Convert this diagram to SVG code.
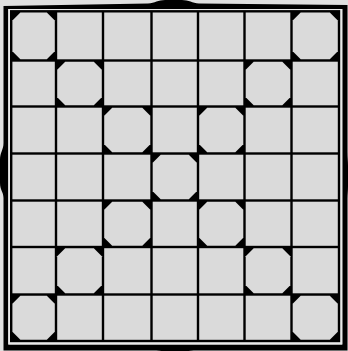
<svg xmlns="http://www.w3.org/2000/svg" width="348" height="351" viewBox="0 0 348 351">
<style>
.c{fill:#dadada}
.o{fill:#dadada}
</style>
<rect width="348" height="351" fill="#e0e0e0"/>
<g id="frame">
<path fill="#000" fill-rule="evenodd" d="M3.5,6 L148,3.5 C155,3 158,0 165,0 L182,0 C189,0 192,3 199,3.5 L347.5,5 L347.5,152 C347.5,158 348,161 348,166 L348,186 C348,191 347.5,194 347.5,199 L347.5,350.5 L197,350.5 C192,350.5 190,351 185,351 L165,351 C160,351 158,350.5 153,350.5 L3.5,350.5 L3.5,198 C3.5,192 0,190 0,183 L0,160 C0,152 3.5,150 3.5,143 Z M8.3,9 L342.3,9 L342.3,344.5 L8.3,344.5 Z"/>
<rect x="8.3" y="9" width="334" height="335.5" fill="#e9e9e9"/>
<rect x="10" y="10.1" width="330.2" height="332.1" fill="#000"/>
</g>
<g id="squares">
<rect class="c" x="57.2" y="12.5" width="44.6" height="46.8"/>
<rect class="c" x="104.2" y="12.5" width="46.1" height="46.8"/>
<rect class="c" x="152.7" y="12.5" width="44.1" height="46.8"/>
<rect class="c" x="199.2" y="12.5" width="44.1" height="46.8"/>
<rect class="c" x="245.7" y="12.5" width="44.6" height="46.8"/>

<rect class="c" x="12.4" y="61.7" width="42.4" height="43.6"/>
<rect class="c" x="104.2" y="61.7" width="46.1" height="43.6"/>
<rect class="c" x="152.7" y="61.7" width="44.1" height="43.6"/>
<rect class="c" x="199.2" y="61.7" width="44.1" height="43.6"/>
<rect class="c" x="292.7" y="61.7" width="45.1" height="43.6"/>

<rect class="c" x="12.4" y="107.7" width="42.4" height="44.6"/>
<rect class="c" x="57.2" y="107.7" width="44.6" height="44.6"/>
<rect class="c" x="152.7" y="107.7" width="44.1" height="44.6"/>
<rect class="c" x="245.7" y="107.7" width="44.6" height="44.6"/>
<rect class="c" x="292.7" y="107.7" width="45.1" height="44.6"/>

<rect class="c" x="12.4" y="154.7" width="42.4" height="44.6"/>
<rect class="c" x="57.2" y="154.7" width="44.6" height="44.6"/>
<rect class="c" x="104.2" y="154.7" width="46.1" height="44.6"/>
<rect class="c" x="199.2" y="154.7" width="44.1" height="44.6"/>
<rect class="c" x="245.7" y="154.7" width="44.6" height="44.6"/>
<rect class="c" x="292.7" y="154.7" width="45.1" height="44.6"/>

<rect class="c" x="12.4" y="201.7" width="42.4" height="44.1"/>
<rect class="c" x="57.2" y="201.7" width="44.6" height="44.1"/>
<rect class="c" x="152.7" y="201.7" width="44.1" height="44.1"/>
<rect class="c" x="245.7" y="201.7" width="44.6" height="44.1"/>
<rect class="c" x="292.7" y="201.7" width="45.1" height="44.1"/>

<rect class="c" x="12.4" y="248.2" width="42.4" height="45.1"/>
<rect class="c" x="104.2" y="248.2" width="46.1" height="45.1"/>
<rect class="c" x="152.7" y="248.2" width="44.1" height="45.1"/>
<rect class="c" x="199.2" y="248.2" width="44.1" height="45.1"/>
<rect class="c" x="292.7" y="248.2" width="45.1" height="45.1"/>

<rect class="c" x="57.2" y="295.7" width="44.6" height="44.1"/>
<rect class="c" x="104.2" y="295.7" width="46.1" height="44.1"/>
<rect class="c" x="152.7" y="295.7" width="44.1" height="44.1"/>
<rect class="c" x="199.2" y="295.7" width="44.1" height="44.1"/>
<rect class="c" x="245.7" y="295.7" width="44.6" height="44.1"/>
</g>
<g id="octagons">
<polygon class="o" points="20.4,12.5 46.8,12.5 54.8,20.5 54.8,51.3 46.8,59.3 20.4,59.3 12.4,51.3 12.4,20.5"/>
<polygon class="o" points="300.7,12.5 329.8,12.5 337.8,20.5 337.8,51.3 329.8,59.3 300.7,59.3 292.7,51.3 292.7,20.5"/>
<polygon class="o" points="65.2,61.7 93.8,61.7 101.8,69.7 101.8,97.3 93.8,105.3 65.2,105.3 57.2,97.3 57.2,69.7"/>
<polygon class="o" points="253.7,61.7 282.3,61.7 290.3,69.7 290.3,97.3 282.3,105.3 253.7,105.3 245.7,97.3 245.7,69.7"/>
<polygon class="o" points="112.2,107.7 142.3,107.7 150.3,115.7 150.3,144.3 142.3,152.3 112.2,152.3 104.2,144.3 104.2,115.7"/>
<polygon class="o" points="207.2,107.7 235.3,107.7 243.3,115.7 243.3,144.3 235.3,152.3 207.2,152.3 199.2,144.3 199.2,115.7"/>
<polygon class="o" points="160.7,154.7 188.8,154.7 196.8,162.7 196.8,191.3 188.8,199.3 160.7,199.3 152.7,191.3 152.7,162.7"/>
<polygon class="o" points="112.2,201.7 142.3,201.7 150.3,209.7 150.3,237.8 142.3,245.8 112.2,245.8 104.2,237.8 104.2,209.7"/>
<polygon class="o" points="207.2,201.7 235.3,201.7 243.3,209.7 243.3,237.8 235.3,245.8 207.2,245.8 199.2,237.8 199.2,209.7"/>
<polygon class="o" points="65.2,248.2 93.8,248.2 101.8,256.2 101.8,285.3 93.8,293.3 65.2,293.3 57.2,285.3 57.2,256.2"/>
<polygon class="o" points="253.7,248.2 282.3,248.2 290.3,256.2 290.3,285.3 282.3,293.3 253.7,293.3 245.7,285.3 245.7,256.2"/>
<polygon class="o" points="20.4,295.7 46.8,295.7 54.8,303.7 54.8,331.8 46.8,339.8 20.4,339.8 12.4,331.8 12.4,303.7"/>
<polygon class="o" points="300.7,295.7 329.8,295.7 337.8,303.7 337.8,331.8 329.8,339.8 300.7,339.8 292.7,331.8 292.7,303.7"/>
</g>
</svg>
